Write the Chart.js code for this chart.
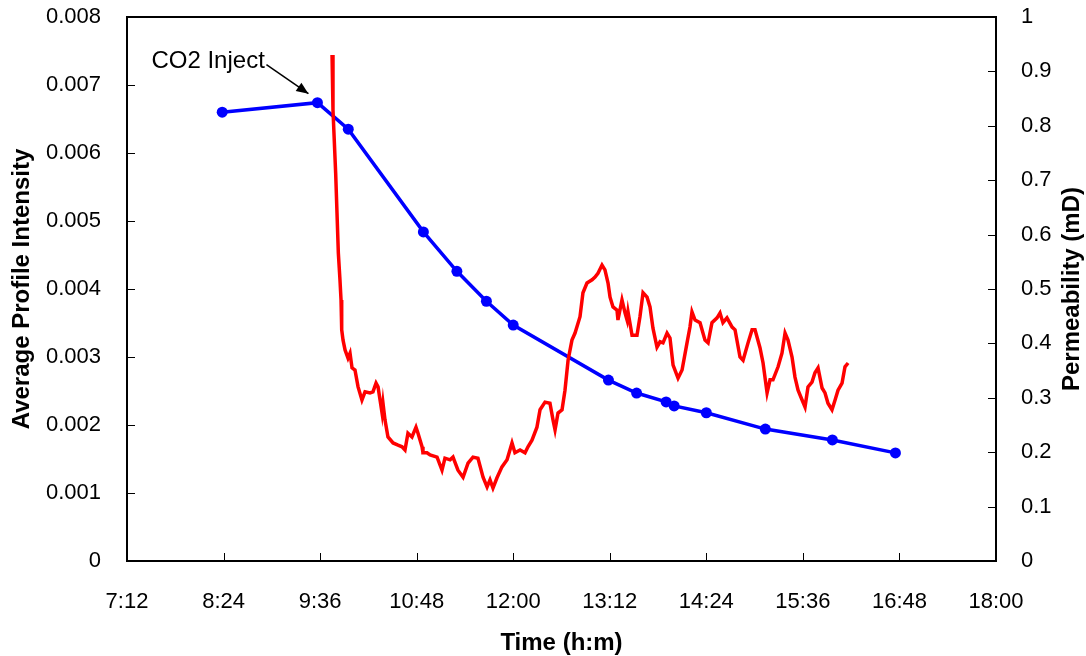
<!DOCTYPE html>
<html><head><meta charset="utf-8">
<script src="https://cdn.jsdelivr.net/npm/chart.js@4"></script>
<style>html,body{margin:0;padding:0;background:#fff}#wrap{width:1086px;height:656px}</style>
</head><body><div id="wrap"><canvas id="c" width="1086" height="656"></canvas></div>
<script>
// Time axis in minutes since midnight
const timeMin = 432, timeMax = 1080, timeStep = 72;
const intensityMax = 0.008, intensityStep = 0.001;
const permMax = 1, permStep = 0.1;

// Blue series: Average Profile Intensity
const blueTimes = [503, 574, 597, 653, 678, 700, 720, 791, 812, 834, 840, 864, 908, 958, 1005];
const blueIntensity = [0.0066, 0.00674, 0.00635, 0.00484, 0.00426, 0.00382, 0.00347, 0.00266, 0.00247, 0.00234, 0.00228, 0.00218, 0.00194, 0.00178, 0.00159];

// Red series: Permeability (mD)
const redTimes = [584.9,585.6,587.6,589.6,590.8,591.6,592.1,593.1,594.6,596.8,598.3,599.8,602.0,604.3,607.2,609.5,613.2,615.4,617.7,619.2,620.7,622.2,622.9,624.4,626.6,630.4,634.1,637.1,639.3,641.5,644.5,647.5,649.0,652.0,652.7,655.7,658.0,663.2,666.9,669.1,672.9,675.1,678.8,682.6,686.3,690.0,693.7,697.5,700.5,702.7,704.9,707.9,711.6,715.4,719.1,721.3,725.1,728.8,731.0,734.0,737.7,740.0,743.7,747.4,749.7,751.2,753.4,756.4,758.6,760.9,763.8,766.1,769.8,772.0,775.0,778.8,781.0,783.2,786.2,788.4,790.7,792.2,794.4,797.4,798.1,801.1,803.4,804.9,805.6,808.6,812.3,814.5,816.8,819.8,822.0,824.2,827.2,829.5,831.7,834.7,836.9,839.2,842.9,845.9,849.6,851.8,853.3,855.6,859.3,863.0,865.3,868.2,872.0,874.2,876.4,879.4,883.2,885.4,889.1,891.4,895.1,898.1,900.3,904.0,906.3,909.3,911.5,913.7,917.5,920.4,922.7,924.9,927.9,930.1,932.4,935.4,937.6,939.8,942.8,945.0,947.3,950.3,952.5,954.7,957.7,960.0,962.2,965.2,967.4,969.7];
const redPermeability = [0.930,0.829,0.713,0.566,0.517,0.480,0.425,0.406,0.388,0.373,0.382,0.355,0.351,0.320,0.296,0.311,0.309,0.311,0.327,0.320,0.296,0.272,0.290,0.259,0.228,0.217,0.213,0.210,0.204,0.235,0.228,0.246,0.235,0.210,0.199,0.199,0.195,0.191,0.167,0.189,0.186,0.191,0.167,0.154,0.180,0.191,0.189,0.154,0.136,0.149,0.134,0.153,0.173,0.186,0.217,0.199,0.204,0.199,0.210,0.222,0.246,0.278,0.292,0.290,0.259,0.241,0.272,0.278,0.314,0.369,0.406,0.419,0.449,0.493,0.511,0.517,0.522,0.529,0.544,0.535,0.511,0.485,0.467,0.461,0.443,0.480,0.456,0.443,0.458,0.415,0.415,0.449,0.493,0.485,0.467,0.428,0.393,0.403,0.401,0.419,0.410,0.360,0.336,0.351,0.401,0.430,0.458,0.443,0.438,0.406,0.401,0.438,0.447,0.456,0.438,0.447,0.430,0.425,0.375,0.369,0.401,0.425,0.425,0.392,0.364,0.309,0.333,0.333,0.357,0.382,0.419,0.406,0.375,0.338,0.314,0.296,0.283,0.320,0.329,0.346,0.355,0.318,0.309,0.290,0.278,0.296,0.314,0.327,0.357,0.364];

const annotationText = 'CO2 Inject';
const annotationIndex = 1;
const rightTitle = 'Permeability (mD)';

const FONT = "'Liberation Sans', Arial, sans-serif";
Chart.defaults.font.family = FONT;
Chart.defaults.color = '#000';

function fmtTime(v){ const h = Math.floor(v/60), m = Math.round(v - h*60); return h + ':' + (m<10?'0':'') + m; }

const decor = {
  id: 'decor',
  afterDraw(chart){
    const {ctx, chartArea:a, scales} = chart;
    ctx.save();
    ctx.strokeStyle = '#000';
    ctx.lineWidth = 1;
    const tl = 8;
    scales.x.ticks.forEach(t => {
      const p = Math.round(scales.x.getPixelForValue(t.value)) + 0.5;
      ctx.beginPath(); ctx.moveTo(p, a.bottom); ctx.lineTo(p, a.bottom - tl); ctx.stroke();
    });
    scales.y.ticks.forEach(t => {
      const p = Math.round(scales.y.getPixelForValue(t.value)) + 0.5;
      ctx.beginPath(); ctx.moveTo(a.left, p); ctx.lineTo(a.left + tl, p); ctx.stroke();
    });
    scales.y2.ticks.forEach(t => {
      const p = Math.round(scales.y2.getPixelForValue(t.value)) + 0.5;
      ctx.beginPath(); ctx.moveTo(a.right, p); ctx.lineTo(a.right - tl, p); ctx.stroke();
    });
    ctx.lineWidth = 2;
    ctx.strokeRect(Math.round(a.left), Math.round(a.top), Math.round(a.right - a.left), Math.round(a.bottom - a.top));

    // annotation
    const px = scales.x.getPixelForValue(blueTimes[annotationIndex]);
    const py = scales.y.getPixelForValue(blueIntensity[annotationIndex]);
    ctx.fillStyle = '#000';
    ctx.font = '24px ' + FONT;
    ctx.textAlign = 'left'; ctx.textBaseline = 'alphabetic';
    ctx.fillText(annotationText, px - 166, py - 35);
    const x0 = px - 51, y0 = py - 38, x1 = px - 9, y1 = py - 9;
    ctx.lineWidth = 1.5;
    ctx.beginPath(); ctx.moveTo(x0, y0); ctx.lineTo(x1, y1); ctx.stroke();
    const ang = Math.atan2(y1 - y0, x1 - x0), L = 12, W = 5;
    ctx.beginPath();
    ctx.moveTo(x1, y1);
    ctx.lineTo(x1 - L*Math.cos(ang) + W*Math.sin(ang), y1 - L*Math.sin(ang) - W*Math.cos(ang));
    ctx.lineTo(x1 - L*Math.cos(ang) - W*Math.sin(ang), y1 - L*Math.sin(ang) + W*Math.cos(ang));
    ctx.closePath(); ctx.fill();

    // right axis title (reads bottom to top)
    ctx.font = 'bold 24px ' + FONT;
    ctx.textAlign = 'center'; ctx.textBaseline = 'middle';
    ctx.translate(1072, (a.top + a.bottom) / 2);
    ctx.rotate(-Math.PI/2);
    ctx.fillText(rightTitle, 0, 0);
    ctx.restore();
  }
};

new Chart(document.getElementById('c'), {
  type: 'line',
  data: {
    datasets: [
      {
        label: 'Permeability',
        data: redTimes.map((t,i) => ({x:t, y:redPermeability[i]})),
        yAxisID: 'y2',
        borderColor: '#FF0000',
        borderWidth: 3.5,
        pointRadius: 0,
        tension: 0,
        order: 0
      },
      {
        label: 'Average Profile Intensity',
        data: blueTimes.map((t,i) => ({x:t, y:blueIntensity[i]})),
        yAxisID: 'y',
        borderColor: '#0000FF',
        backgroundColor: '#0000FF',
        borderWidth: 3.5,
        pointRadius: 5.5,
        pointBorderWidth: 0,
        pointBackgroundColor: '#0000FF',
        tension: 0,
        order: 1
      }
    ]
  },
  options: {
    responsive: false,
    animation: false,
    devicePixelRatio: 1,
    layout: { padding: { top: 17, left: 0, right: 0, bottom: 0 } },
    plugins: { legend: { display: false }, tooltip: { enabled: false } },
    scales: {
      x: {
        type: 'linear', min: timeMin, max: timeMax,
        ticks: { stepSize: timeStep, callback: v => fmtTime(v), font: { size: 22 }, color: '#000', padding: 20, maxRotation: 0, autoSkip: false },
        grid: { display: false }, border: { display: false },
        title: { display: true, text: 'Time (h:m)', font: { size: 24, weight: 'bold' }, color: '#000', padding: { top: 0, bottom: -2 } },
        afterFit(s){ s.height = 95; s.paddingLeft = 0; s.paddingRight = 0; }
      },
      y: {
        position: 'left', min: 0, max: intensityMax,
        ticks: { stepSize: intensityStep, callback: v => v === 0 ? '0' : (+v.toFixed(3)).toString(), font: { size: 22 }, color: '#000', padding: 18 },
        grid: { display: false }, border: { display: false },
        title: { display: true, text: 'Average Profile Intensity', font: { size: 24, weight: 'bold' }, color: '#000', padding: { top: 8, bottom: 0 } },
        afterFit(s){ s.width = 127; s.paddingTop = 0; s.paddingBottom = 0; }
      },
      y2: {
        position: 'right', min: 0, max: permMax,
        ticks: { stepSize: permStep, callback: v => v === 0 ? '0' : (+v.toFixed(1)).toString(), font: { size: 22 }, color: '#000', padding: 17 },
        grid: { display: false }, border: { display: false },
        afterFit(s){ s.width = 90; s.paddingTop = 0; s.paddingBottom = 0; }
      }
    }
  },
  plugins: [decor]
});
</script>
</body></html>
